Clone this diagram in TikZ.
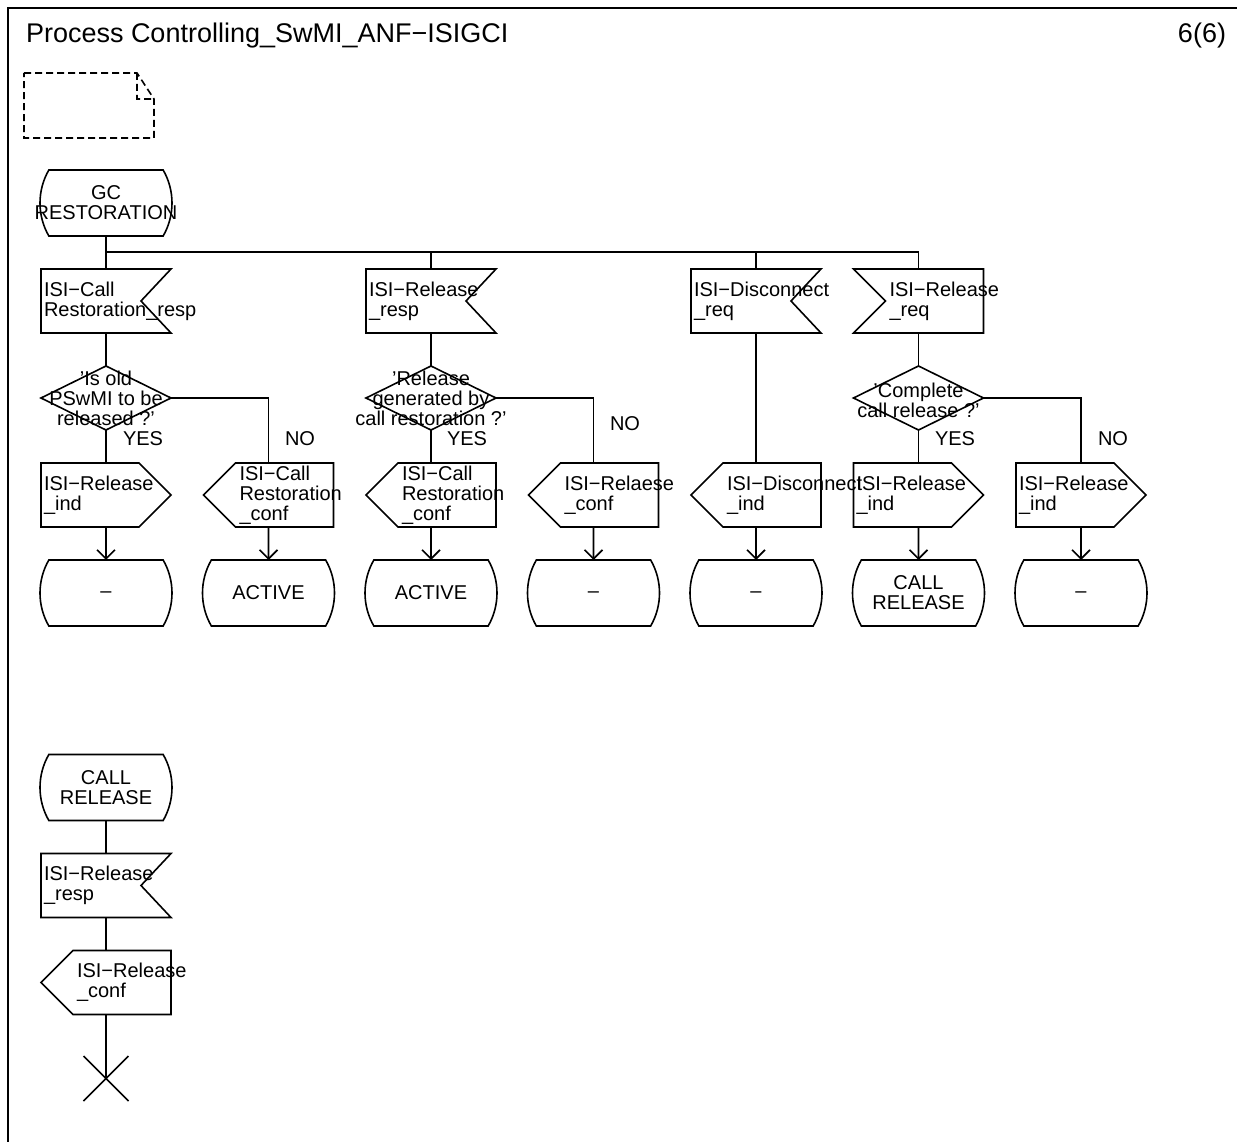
\documentclass[tikz,border=0pt]{standalone}
\usepackage{fontspec}
\setmainfont{Liberation Sans}
\usetikzlibrary{arrows.meta, shapes.geometric, shapes.misc, positioning}

\newcommand\sdlfont{\fontsize{20}{20}\selectfont}
\newcommand\headfont{\fontsize{27}{27}\selectfont}

\begin{document}
\begin{tikzpicture}[
    x=1pt, y=-1pt,
    line width=1.6pt,
    node distance = 33pt and 32.5pt,
    every node/.style = {font=\sdlfont, inner sep=0pt, outer sep=0pt},
    sdl/.style      = {minimum width=130pt, minimum height=64pt, inner xsep=3pt,
                       text width=124pt,
                       execute at begin node={\hyphenpenalty=10000 \leftskip=#1\relax}},
    sdl/.default    = 0pt,
    sdlstate/.style = {draw, rounded rectangle, rounded rectangle arc length=60,
                       minimum width=130pt, minimum height=66pt, align=center},
    decision/.style = {draw, diamond, minimum width=130pt, minimum height=64pt},
    dtext/.style    = {align=center},
    lbl/.style      = {anchor=base west},
    arr/.style      = {-{Straight Barb[length=9pt, width=18pt]}},
]
\useasboundingbox (0,0) rectangle (1237,1142);

% frame, heading and comment symbol
\draw (8,1142) -- (8,8) -- (1237,8);
\node[anchor=base west, font=\headfont] (title) at (26,43) {Process Controlling\_SwMI\_ANF−ISIGCI};
\node[anchor=base east, font=\headfont] (page) at (1226,43) {6(6)};
\draw[dash pattern=on 7pt off 4pt] (24,73) -- (137,73) -- (154,99) -- (154,138) -- (24,138) -- cycle
    (137,73) -- (137,99) -- (154,99);

% GC RESTORATION and its branches
\node[sdlstate] (gc) at (106,203) {GC\\\makebox[0pt]{RESTORATION}};
\node[sdl, below=of gc] (in1) {ISI−Call\\Restoration\_resp};
\node[decision, below=of in1,
      label={[dtext]center:{'Is old\\PSwMI to be\\released ?'}}] (d1) {};
\node[sdl, below=of d1]       (o1) {ISI−Release\\\_ind};
\node[sdl=33pt, right=of o1]  (o2) {ISI−Call\\Restoration\\\_conf};
\node[sdl=33pt, right=of o2]  (o3) {ISI−Call\\Restoration\\\_conf};
\node[sdl=33pt, right=of o3]  (o4) {ISI−Relaese\\\_conf};
\node[sdl=33pt, right=of o4]  (o5) {ISI−Disconnect\\\_ind};
\node[sdl, right=of o5]       (o6) {ISI−Release\\\_ind};
\node[sdl, right=of o6]       (o7) {ISI−Release\\\_ind};

\node[sdl] (in2) at (in1 -| o3) {ISI−Release\\\_resp};
\node[decision, label={[dtext]center:{'Release\\generated by\\call restoration ?'}}]
      (d2) at (d1 -| o3) {};
\node[sdl] (in3) at (in1 -| o5) {ISI−Disconnect\\\_req};
\node[sdl=33pt] (in4) at (in1 -| o6) {ISI−Release\\\_req};
\node[decision, label={[dtext, yshift=-2pt]center:{'Complete\\call release ?'}}]
      (d3) at (d1 -| o6) {};

\foreach \k/\txt in {1/\strut--, 2/ACTIVE, 3/ACTIVE, 4/\strut--, 5/\strut--,
                     6/CALL\\RELEASE, 7/\strut--}
  \node[sdlstate, below=of o\k] (s\k) {\txt};

% CALL RELEASE
\node[sdlstate] (s8) at (106,787.5) {CALL\\RELEASE};
\node[sdl, below=of s8]      (in5) {ISI−Release\\\_resp};
\node[sdl=33pt, below=of in5] (o8) {ISI−Release\\\_conf};
\node[draw, cross out, minimum size=45pt, below=41.5pt of o8] (stop) {};

% outlines of inputs and outputs
\foreach \n in {in1, in2, in3, in5}
  \draw (\n.north west) -- (\n.north east) -- ([xshift=-30pt]\n.east)
        -- (\n.south east) -- (\n.south west) -- cycle;
\draw (in4.north west) -- (in4.north east) -- (in4.south east)
      -- (in4.south west) -- ([xshift=32pt]in4.west) -- cycle;
\foreach \n in {o1, o6, o7}
  \draw (\n.north west) -- ([xshift=-32pt]\n.north east) -- (\n.east)
        -- ([xshift=-32pt]\n.south east) -- (\n.south west) -- cycle;
\foreach \n in {o2, o3, o4, o5, o8}
  \draw ([xshift=32pt]\n.north west) -- (\n.north east) -- (\n.south east)
        -- ([xshift=32pt]\n.south west) -- (\n.west) -- cycle;

% connectors
\coordinate[below=16pt of gc] (bus);
\draw (gc) -- (in1);
\foreach \n in {in2, in3, in4}
  \draw (bus) -| (\n);
\draw (in1) -- (d1) -- (o1);
\draw (d1.east) -| (o2);
\draw (in2) -- (d2) -- (o3);
\draw (d2.east) -| (o4);
\draw (in3) -- (o5);
\draw (in4) -- (d3) -- (o6);
\draw (d3.east) -| (o7);
\foreach \k in {1,...,7}
  \draw[arr] (o\k) -- (s\k);
\draw (s8) -- (in5) -- (o8) -- (stop.center);

% answers
\node[lbl] (yes1) at (123,445)  {YES};
\node[lbl] (no1)  at (285,445)  {NO};
\node[lbl] (yes2) at (447,445)  {YES};
\node[lbl] (no2)  at (610,430)  {NO};
\node[lbl] (yes3) at (935,445)  {YES};
\node[lbl] (no3)  at (1098,445) {NO};

\end{tikzpicture}
\end{document}
